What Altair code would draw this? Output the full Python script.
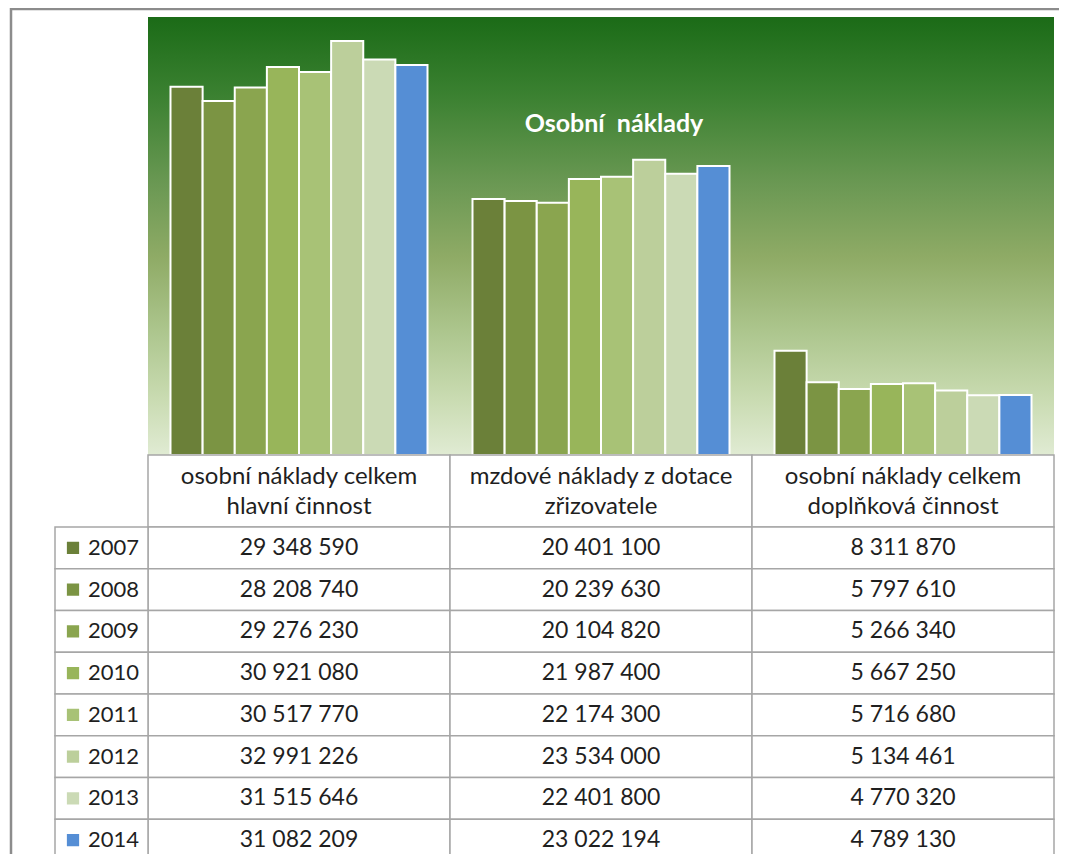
import altair as alt
import pandas as pd

# ---------------- data ----------------
categories = [
    "osobní náklady celkem\nhlavní činnost",
    "mzdové náklady z dotace\nzřizovatele",
    "osobní náklady celkem\ndoplňková činnost",
]
years = ["2007", "2008", "2009", "2010", "2011", "2012", "2013", "2014"]
hlavni = [29348590, 28208740, 29276230, 30921080, 30517770, 32991226, 31515646, 31082209]
mzdove = [20401100, 20239630, 20104820, 21987400, 22174300, 23534000, 22401800, 23022194]
doplnkova = [8311870, 5797610, 5266340, 5667250, 5716680, 5134461, 4770320, 4789130]
year_colors = ["#6b8039", "#7b9443", "#8aa54f", "#98b55a", "#a8c276",
               "#bccf9b", "#cbdab5", "#558ed5"]
title_text = "Osobní\u00a0 náklady"

series = [hlavni, mzdove, doplnkova]
rows = []
for c, vals in zip(categories, series):
    for y, v in zip(years, vals):
        rows.append({"cat": c, "year": y, "value": v,
                     "label": f"{v:,}".replace(",", " ")})
df = pd.DataFrame(rows)
df_cats = pd.DataFrame({"cat": categories})
df_years = pd.DataFrame({"year": years})

FONT = "Lato"
W, H = 1051, 846
PX0, PX1, PY0, PY1 = 140, 1046, 9, 447   # plot area in chart coords
TY0, TY1 = 519, 853                      # table body rows

color_scale = alt.Scale(domain=years, range=year_colors)

# ---------------- plot area background ----------------
grad = alt.Gradient(
    gradient="linear", x1=0, x2=0, y1=0, y2=1,
    stops=[
        alt.GradientStop(color="#1b6b17", offset=0.0),
        alt.GradientStop(color="#3b8131", offset=0.18),
        alt.GradientStop(color="#6a9853", offset=0.38),
        alt.GradientStop(color="#8fab66", offset=0.55),
        alt.GradientStop(color="#adc68e", offset=0.72),
        alt.GradientStop(color="#c9dbb1", offset=0.87),
        alt.GradientStop(color="#e0ebd3", offset=1.0),
    ],
)
bg = alt.Chart(pd.DataFrame({"a": [0]})).mark_rect(fill=grad).encode(
    x=alt.value(PX0), x2=alt.value(PX1), y=alt.value(PY0), y2=alt.value(PY1)
)

# ---------------- bars ----------------
x_bar = alt.Scale(domain=categories, range=[PX0, PX1], paddingInner=0.149, paddingOuter=0.0745)
bars = alt.Chart(df).mark_bar(stroke="white", strokeWidth=2).encode(
    x=alt.X("cat:N", scale=x_bar, axis=None, sort=categories),
    xOffset=alt.XOffset("year:N", scale=alt.Scale(domain=years, paddingInner=0, paddingOuter=0)),
    y=alt.Y("value:Q", scale=alt.Scale(domain=[0, 34900000], range=[PY1, PY0], nice=False, zero=True), axis=None),
    color=alt.Color("year:N", scale=color_scale, legend=None),
)

title = alt.Chart(pd.DataFrame({"t": [title_text]})).mark_text(
    font=FONT, fontSize=25, fontWeight="bold", color="white", align="center", baseline="middle"
).encode(x=alt.value(606), y=alt.value(116), text="t:N")

# ---------------- table ----------------
x_tab = alt.Scale(domain=categories, range=[PX0, PX1], paddingInner=0, paddingOuter=0)
y_tab = alt.Scale(domain=years, range=[TY0, TY1], paddingInner=0, paddingOuter=0)
LINE = "#a6a6a6"
TXT = "#1f1f1f"

header_cells = alt.Chart(df_cats).mark_rect(fill="white", stroke=LINE, strokeWidth=1.5).encode(
    x=alt.X("cat:N", scale=x_tab, axis=None, sort=categories),
    y=alt.value(PY1), y2=alt.value(TY0),
)
body_cells = alt.Chart(df).mark_rect(fill="white", stroke=LINE, strokeWidth=1.5).encode(
    x=alt.X("cat:N", scale=x_tab, axis=None, sort=categories),
    y=alt.Y("year:N", scale=y_tab, axis=None, sort=years),
)
legend_cells = alt.Chart(df_years).mark_rect(fill="white", stroke=LINE, strokeWidth=1.5).encode(
    x=alt.value(47), x2=alt.value(PX0),
    y=alt.Y("year:N", scale=y_tab, axis=None, sort=years),
)
header_text = alt.Chart(df_cats).mark_text(
    font=FONT, fontSize=24, color=TXT, lineBreak="\n", lineHeight=30,
    align="center", baseline="middle"
).encode(
    x=alt.X("cat:N", scale=x_tab, axis=None, sort=categories),
    y=alt.value(469), text="cat:N",
)
body_text = alt.Chart(df).mark_text(
    font=FONT, fontSize=23, color=TXT, align="center", baseline="middle"
).encode(
    x=alt.X("cat:N", scale=x_tab, axis=None, sort=categories),
    y=alt.Y("year:N", scale=y_tab, axis=None, sort=years),
    text="label:N",
)
legend_sq = alt.Chart(df_years).mark_square(size=150, opacity=1).encode(
    x=alt.value(65),
    y=alt.Y("year:N", scale=y_tab, axis=None, sort=years),
    color=alt.Color("year:N", scale=color_scale, legend=None),
)
legend_text = alt.Chart(df_years).mark_text(
    font=FONT, fontSize=22, color=TXT, align="left", baseline="middle"
).encode(
    x=alt.value(80),
    y=alt.Y("year:N", scale=y_tab, axis=None, sort=years),
    text="year:N",
)

# ---------------- outer frame ----------------
frame_top = alt.Chart(pd.DataFrame({"a": [0]})).mark_rule(color="#8c8c8c", strokeWidth=2.5).encode(
    x=alt.value(2), x2=alt.value(W), y=alt.value(1)
)
frame_left = alt.Chart(pd.DataFrame({"a": [0]})).mark_rule(color="#8c8c8c", strokeWidth=2.5).encode(
    x=alt.value(3), y=alt.value(0), y2=alt.value(H)
)

chart = alt.layer(
    bg, bars, title,
    header_cells, body_cells, legend_cells,
    header_text, body_text, legend_sq, legend_text,
    frame_top, frame_left,
).resolve_scale(
    x="independent", y="independent", color="shared"
).properties(
    width=W, height=H, padding=0,
    autosize=alt.AutoSizeParams(type="none"),
    background="white",
).configure_view(strokeWidth=0)

chart.save("out.html", embed_options={"renderer": "svg", "actions": False})
